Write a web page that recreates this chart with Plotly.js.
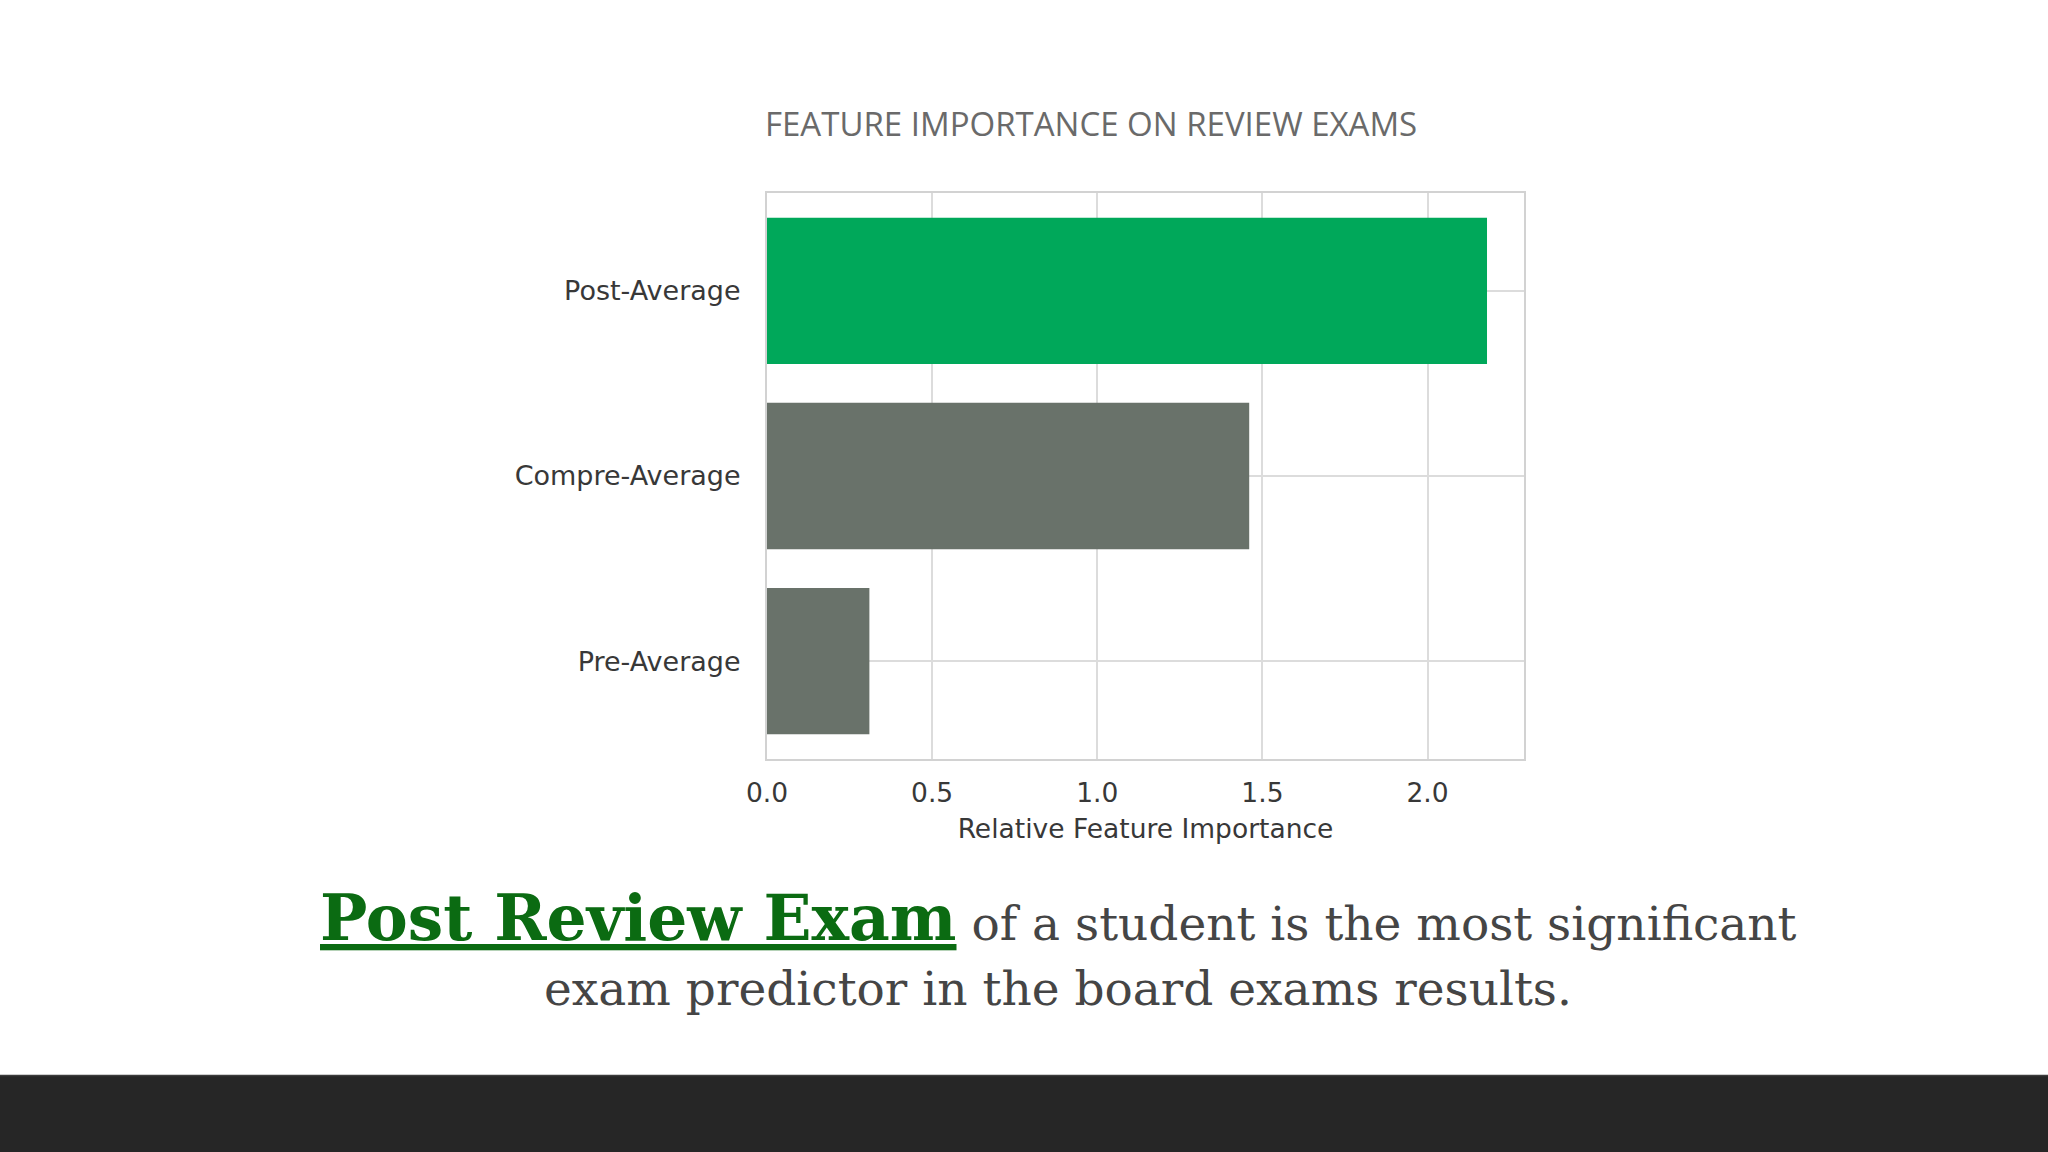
<!DOCTYPE html>
<html>
<head>
<meta charset="utf-8">
<script src="https://cdn.plot.ly/plotly-3.0.1.min.js"></script>
<style>
  html, body { margin: 0; padding: 0; background: #ffffff; }
  #chart { width: 2048px; height: 1152px; }
</style>
</head>
<body>
<div id="chart"></div>
<script>
// ---- data ----
const features = ['Pre-Average', 'Compre-Average', 'Post-Average'];
const importance = [0.31, 1.46, 2.18];
const barColors = ['#69726a', '#69726a', '#00a85a'];
const xTickVals = [0, 0.5, 1.0, 1.5, 2.0];
const xTickText = ['0.0', '0.5', '1.0', '1.5', '2.0'];
const chartTitle = 'FEATURE IMPORTANCE ON REVIEW EXAMS';
const xTitle = 'Relative Feature Importance';
const captionBold = 'Post Review Exam';
const captionRest = 'of a student is the most significant';
const captionLine2 = 'exam predictor in the board exams results.';

// ---- layout geometry ----
const W = 2048, H = 1152;
const M = { l: 767, r: 524, t: 193, b: 393 };
const PW = W - M.l - M.r, PH = H - M.t - M.b;
const px2x = px => (px - M.l) / PW;
const py2y = py => 1 - (py - M.t) / PH;

const labelFont = { family: 'DejaVu Sans, Liberation Sans, sans-serif', size: 26.5, color: '#383838' };
const yLabelFont = { family: 'DejaVu Sans, Liberation Sans, sans-serif', size: 27, color: '#383838' };

const trace = {
  type: 'bar',
  orientation: 'h',
  y: features,
  x: importance,
  marker: { color: barColors, line: { width: 0 } },
  hoverinfo: 'x+y'
};

const layout = {
  width: W, height: H,
  margin: { l: M.l, r: M.r, t: M.t, b: M.b, pad: 0 },
  paper_bgcolor: '#ffffff',
  plot_bgcolor: '#ffffff',
  showlegend: false,
  bargap: 0.21,
  title: {
    text: chartTitle,
    font: { family: 'Open Sans, Noto Sans, sans-serif', size: 33, color: '#6a6a6a' },
    x: 765 / W, xref: 'container', xanchor: 'left',
    y: 1 - 124 / H, yref: 'container', yanchor: 'middle'
  },
  xaxis: {
    range: [0, 2.292],
    tickvals: xTickVals,
    ticktext: xTickText,
    tickfont: labelFont,
    ticks: '',
    ticklabelstandoff: 9,
    showgrid: true, gridcolor: '#dcdcdc', gridwidth: 2,
    zeroline: false,
    showline: true, mirror: true, linecolor: '#d2d2d2', linewidth: 2,
    title: { text: xTitle, font: labelFont, standoff: 13 },
    fixedrange: true
  },
  yaxis: {
    type: 'category',
    categoryorder: 'array',
    categoryarray: features,
    range: [-0.528, 2.528],
    tickfont: yLabelFont,
    ticks: '',
    ticklabelstandoff: 19,
    showgrid: true, gridcolor: '#dcdcdc', gridwidth: 2,
    zeroline: false,
    showline: true, mirror: true, linecolor: '#d2d2d2', linewidth: 2,
    fixedrange: true
  },
  shapes: [
    {
      type: 'rect', xref: 'paper', yref: 'paper', layer: 'below',
      x0: px2x(0), x1: px2x(W), y0: py2y(H), y1: py2y(1075),
      fillcolor: '#262626', line: { width: 0 }
    },
    {
      type: 'line', xref: 'paper', yref: 'paper', layer: 'below',
      x0: px2x(0), x1: px2x(W), y0: py2y(1075.5), y1: py2y(1075.5),
      line: { color: '#3c3c3c', width: 1.5 }
    }
  ],
  annotations: [
    {
      xref: 'paper', yref: 'paper',
      x: px2x(1058), y: py2y(918), xanchor: 'center', yanchor: 'middle',
      showarrow: false,
      text: '<span style="font-family:\'DejaVu Serif\', serif;font-weight:bold;font-size:63px;color:#0b6b12"><u>' + captionBold + '</u></span>' +
            '<span style="font-family:\'DejaVu Serif\', serif;font-size:47px;color:#454545"> ' + captionRest + '</span>',
      font: { family: 'DejaVu Serif, serif', size: 47, color: '#454545' }
    },
    {
      xref: 'paper', yref: 'paper',
      x: px2x(1058), y: py2y(988.7), xanchor: 'center', yanchor: 'middle',
      showarrow: false,
      text: captionLine2,
      font: { family: 'DejaVu Serif, serif', size: 47, color: '#454545' }
    }
  ]
};

Plotly.newPlot('chart', [trace], layout, { displayModeBar: false, staticPlot: true });
</script>
</body>
</html>
